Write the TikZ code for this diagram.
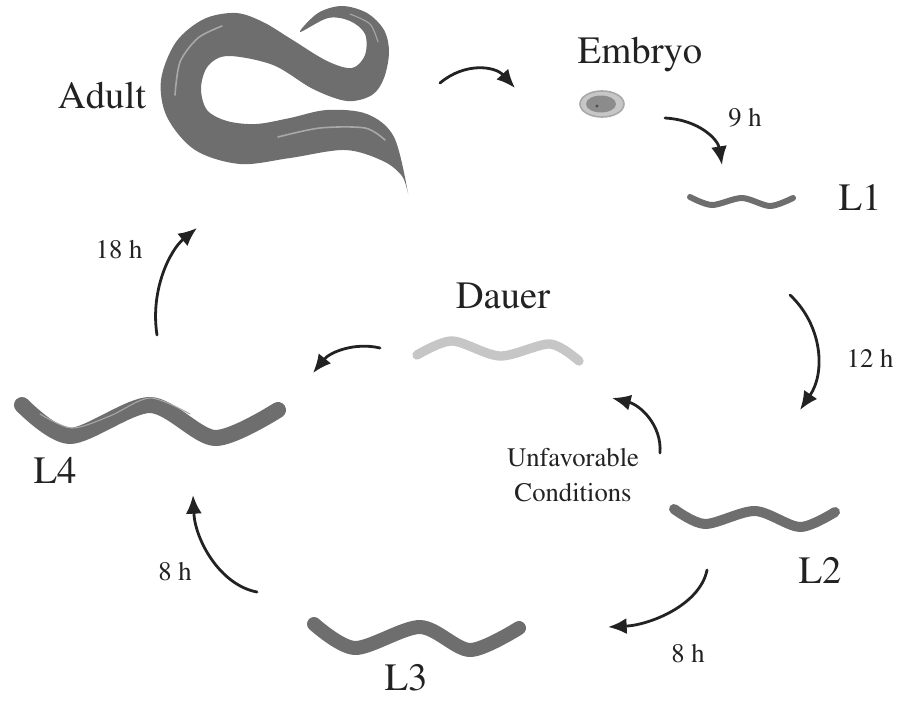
\documentclass[tikz,border=0pt]{standalone}
\usepackage[T1]{fontenc}
\usepackage{times}
\usetikzlibrary{arrows.meta}

\definecolor{wormgray}{HTML}{6E6E6E}
\definecolor{wormlight}{HTML}{A8A8A8}
\definecolor{dauergray}{HTML}{C6C6C6}
\definecolor{inkdark}{HTML}{222222}

\tikzset{
  biglabel/.style={font=\rmfamily\fontsize{29}{33}\selectfont, text=inkdark, inner sep=0pt},
  timelabel/.style={font=\rmfamily\fontsize{20}{24}\selectfont, text=inkdark, inner sep=0pt},
  cyclearrow/.style={draw=inkdark, line width=2.1pt, line cap=round,
    -{Latex[length=14pt,width=12pt]}},
  wormbody/.style={draw=wormgray, line cap=round, line join=round},
  wormshine/.style={draw=wormlight, line cap=round, line width=0.8pt},
}

\begin{document}
\begin{tikzpicture}[x=0.75pt,y=-0.75pt]
\useasboundingbox (0,0) rectangle (898,700);

% ---------- adult worm ----------
\fill[wormgray] plot[smooth cycle, tension=0.55] coordinates {
  (300,32) (318,13) (342,6) (367,13) (384,30) (389,52) (384,78) (372,95)
  (347,101) (313,89) (273,65) (228,56)
  (208,66) (201,88) (207,110) (227,121) (256,124) (290,118) (327,110)
  (367,114) (394,137) (408,193)
  (402,176) (383,161) (345,150) (290,158) (240,164) (195,150) (167,117)
  (161,80) (176,42) (204,19) (236,13)
  (263,22) (291,39) (327,61) (352,68)
  (365,55) (365,34) (350,21) (328,18)};
\draw[wormshine, line width=1.2pt] plot[smooth] coordinates {(175,95) (180,62) (198,38) (222,26)};
\draw[wormshine, line width=1.2pt] plot[smooth] coordinates {(278,137) (320,128) (365,128) (385,140)};
\draw[wormshine] plot[smooth] coordinates {(350,14) (370,24) (378,42)};
\coordinate (adultR) at (440,83);
\coordinate (adultB) at (197,228);

% ---------- embryo ----------
\filldraw[draw=wormlight, fill=black!22, line width=1.2pt] (602,104) ellipse (22 and 13);
\fill[black!45] (601,104) ellipse (15 and 8.5);
\fill[black!70] (597,106) circle (1.6);
\coordinate (embL) at (515,88);
\coordinate (embR) at (665,118);

% ---------- larvae ----------
\draw[wormbody, line width=4.5pt] plot[smooth] coordinates {(690,197) (712,205) (742,198) (770,206) (793,198)};
\draw[wormbody, line width=7.5pt] plot[smooth] coordinates {(674,509) (705,524) (755,511) (800,527) (835,512)};
\draw[wormbody, line width=10.5pt] plot[smooth] coordinates {(314,624) (355,648) (420,627) (470,650) (519,628)};
\draw[wormbody, line width=12pt] plot[smooth] coordinates {(22,405) (70,436) (150,405) (215,438) (278,410)};
\draw[wormshine] plot[smooth] coordinates {(40,414) (72,428) (110,416) (150,398) (190,414)};
\draw[draw=dauergray, line cap=round, line width=7pt] plot[smooth] coordinates {(417,355) (452,341) (500,356) (550,344) (579,361)};

% ---------- labels ----------
\node[biglabel] (adult) at (102,96) {Adult};
\node[biglabel] (embryo) at (640,55) {Embryo};
\node[biglabel] (l1) at (860,197) {L1};
\node[biglabel] (l2) at (820,570) {L2};
\node[biglabel] (l3) at (406,678) {L3};
\node[biglabel] (l4) at (55,470) {L4};
\node[biglabel] (dauer) at (503,296) {Dauer};
\node[timelabel] (t9) at (745,118) {9 h};
\node[timelabel] (t12) at (870,358) {12 h};
\node[timelabel] (t8a) at (688,654) {8 h};
\node[timelabel] (t8b) at (175,572) {8 h};
\node[timelabel] (t18) at (119,250) {18 h};
\node[timelabel, align=center] (unfav) at (573,475) {Unfavorable\\[2pt]Conditions};

% ---------- arrow end points ----------
\coordinate (l1in) at (722,165);
\coordinate (l1out) at (790,295);
\coordinate (l2in) at (800,410);
\coordinate (l2out) at (707,570);
\coordinate (l3in) at (608,627);
\coordinate (l3out) at (257,592);
\coordinate (l4in) at (193,495);
\coordinate (l4out) at (157,335);
\coordinate (dauerout) at (380,348);
\coordinate (l4side) at (313,373);
\coordinate (unfavout) at (660,453);
\coordinate (dauerin) at (612,398);

% ---------- cycle arrows ----------
\draw[cyclearrow] (adultR) .. controls (465,62) and (495,66) .. (embL);
\draw[cyclearrow] (embR) .. controls (700,120) and (718,140) .. (l1in);
\draw[cyclearrow] (l1out) .. controls (822,325) and (826,372) .. (l2in);
\draw[cyclearrow] (l2out) .. controls (700,605) and (650,625) .. (l3in);
\draw[cyclearrow] (l3out) .. controls (220,585) and (195,540) .. (l4in);
\draw[cyclearrow] (l4out) .. controls (150,290) and (170,250) .. (adultB);
\draw[cyclearrow] (dauerout) .. controls (355,342) and (330,352) .. (l4side);
\draw[cyclearrow] (unfavout) .. controls (662,425) and (640,405) .. (dauerin);

\end{tikzpicture}
\end{document}
